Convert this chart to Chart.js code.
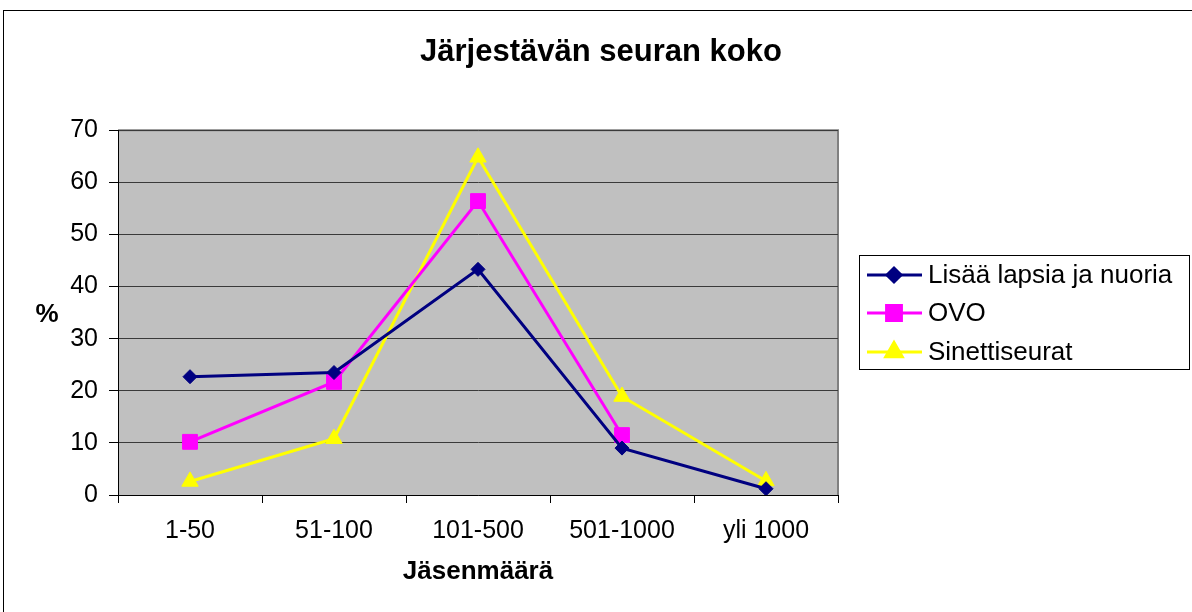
<!DOCTYPE html>
<html>
<head>
<meta charset="utf-8">
<script src="https://cdn.jsdelivr.net/npm/chart.js@4/dist/chart.umd.min.js"></script>
<style>
    body { margin: 0; background: #fff; }
    canvas { display: block; }
</style>
</head>
<body>
<canvas id="myChart" width="1192" height="612"></canvas>
<script>
// Chart data
const categories = ['1-50', '51-100', '101-500', '501-1000', 'yli 1000'];
const seriesNames = ['Lisää lapsia ja nuoria', 'OVO', 'Sinettiseurat'];
const lisaaValues = [22.7, 23.5, 43.3, 9.0, 1.2];
const ovoValues = [10.2, 21.7, 56.4, 11.5, null];
const sinettiValues = [2.6, 10.8, 64.8, 18.9, 2.7];
const yTicks = [0, 10, 20, 30, 40, 50, 60, 70];

const FONT = 'Arial, "Liberation Sans", sans-serif';

// Fill plot area grey, draw outer frame
const backgroundPlugin = {
    id: 'background',
    beforeDraw(chart) {
        const ctx = chart.ctx;
        const a = chart.chartArea;
        ctx.save();
        ctx.fillStyle = '#ffffff';
        ctx.fillRect(0, 0, chart.width, chart.height);
        ctx.strokeStyle = '#000000';
        ctx.lineWidth = 1;
        ctx.strokeRect(3.5, 10.5, chart.width + 10, chart.height + 10);
        ctx.fillStyle = '#c0c0c0';
        ctx.fillRect(a.left, a.top, a.right - a.left, a.bottom - a.top);
        ctx.strokeStyle = '#808080';
        ctx.lineWidth = 2;
        ctx.beginPath();
        ctx.moveTo(a.left, a.top);
        ctx.lineTo(a.right, a.top);
        ctx.lineTo(a.right, a.bottom);
        ctx.stroke();
        ctx.restore();
    }
};

// "%" label (not rotated) and the boxed legend on the right
const extrasPlugin = {
    id: 'extras',
    afterDraw(chart) {
        const ctx = chart.ctx;
        ctx.save();
        ctx.fillStyle = '#000';
        ctx.font = 'bold 26px ' + FONT;
        ctx.textAlign = 'center';
        ctx.textBaseline = 'middle';
        ctx.fillText('%', 47, 315);

        // legend box
        ctx.strokeStyle = '#000';
        ctx.lineWidth = 1;
        ctx.strokeRect(859.5, 255.5, 330, 114);
        const rows = [275, 313, 352];
        chart.data.datasets.forEach((ds, i) => {
            const y = rows[i];
            ctx.strokeStyle = ds.borderColor;
            ctx.lineWidth = 3;
            ctx.beginPath();
            ctx.moveTo(867, y);
            ctx.lineTo(922, y);
            ctx.stroke();
            ctx.fillStyle = ds.pointBackgroundColor;
            ctx.strokeStyle = ds.borderColor;
            Chart.helpers.drawPoint(ctx, {
                pointStyle: ds.pointStyle,
                radius: ds.pointRadius,
                rotation: 0,
                borderWidth: 1
            }, 894, y);
            ctx.fillStyle = '#000';
            ctx.font = '26px ' + FONT;
            ctx.textAlign = 'left';
            ctx.textBaseline = 'middle';
            ctx.fillText(ds.label, 928, y + 1);
        });
        ctx.restore();
    }
};

function makeSeries(label, data, color, style, radius) {
    return {
        label: label,
        data: data,
        borderColor: color,
        backgroundColor: color,
        pointBackgroundColor: color,
        pointBorderColor: color,
        pointStyle: style,
        pointRadius: radius,
        pointHoverRadius: radius,
        pointBorderWidth: 1,
        borderWidth: 3,
        tension: 0,
        spanGaps: false
    };
}

new Chart('myChart', {
    type: 'line',
    data: {
        labels: categories,
        datasets: [
            makeSeries(seriesNames[0], lisaaValues, '#000080', 'rectRot', 7),
            makeSeries(seriesNames[1], ovoValues, '#ff00ff', 'rect', 10.5),
            makeSeries(seriesNames[2], sinettiValues, '#ffff00', 'triangle', 9.5)
        ]
    },
    options: {
        responsive: false,
        devicePixelRatio: 1,
        animation: false,
        layout: { padding: { left: 10, right: 0, top: 0, bottom: 0 } },
        plugins: {
            legend: { display: false },
            tooltip: { enabled: false },
            title: {
                display: true,
                text: 'Järjestävän seuran koko',
                color: '#000',
                font: { family: FONT, size: 31, weight: 'bold' },
                padding: { top: 34, bottom: 59 }
            }
        },
        scales: {
            x: {
                offset: true,
                afterFit(scale) { scale.height = 117; },
                grid: {
                    offset: true,
                    drawOnChartArea: false,
                    drawTicks: true,
                    tickLength: 8,
                    tickColor: '#000'
                },
                border: { display: true, color: '#000', width: 1 },
                ticks: {
                    color: '#000',
                    padding: 13,
                    maxRotation: 0,
                    font: { family: FONT, size: 25 }
                },
                title: {
                    display: true,
                    text: 'Jäsenmäärä',
                    color: '#000',
                    font: { family: FONT, size: 26, weight: 'bold' },
                    padding: { top: 0, bottom: 25 }
                }
            },
            y: {
                min: 0,
                max: 70,
                afterFit(scale) { scale.width = 108; },
                afterBuildTicks(scale) {
                    scale.ticks = yTicks.map(v => ({ value: v }));
                },
                grid: {
                    color: '#3a3a3a',
                    lineWidth: 1,
                    drawTicks: true,
                    tickLength: 9,
                    tickColor: '#000'
                },
                border: { display: true, color: '#000', width: 1 },
                ticks: {
                    color: '#000',
                    padding: 11,
                    font: { family: FONT, size: 25 }
                }
            },
            // empty right-hand scale that reserves room for the legend
            legendSpace: {
                type: 'linear',
                position: 'right',
                display: true,
                afterFit(scale) { scale.width = 354; },
                grid: { display: false, drawOnChartArea: false },
                border: { display: false },
                ticks: { display: false }
            }
        }
    },
    plugins: [backgroundPlugin, extrasPlugin]
});
</script>
</body>
</html>
